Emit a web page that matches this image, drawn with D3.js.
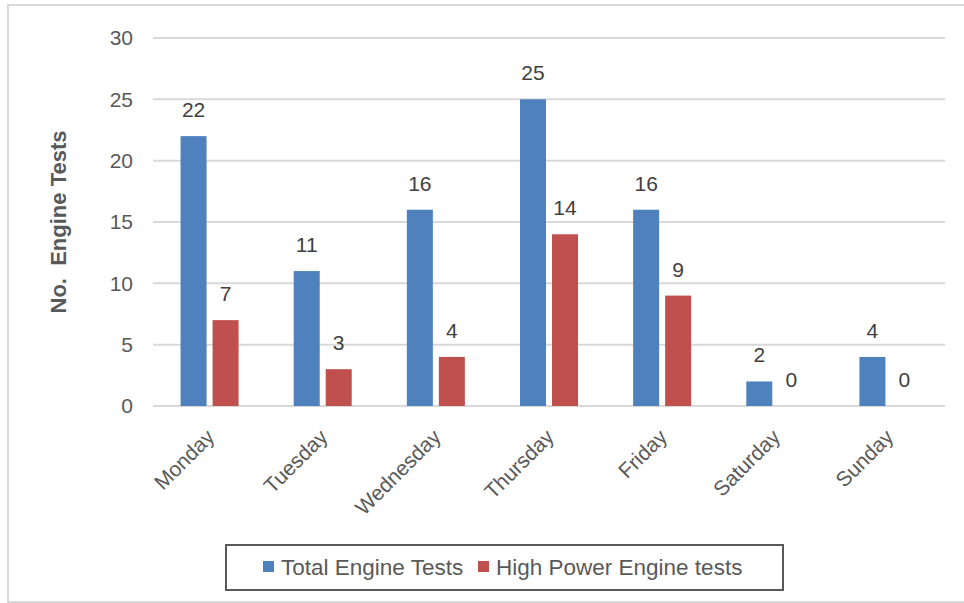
<!DOCTYPE html>
<html>
<head>
<meta charset="utf-8">
<script src="https://cdn.jsdelivr.net/npm/d3@7"></script>
<style>
  body { margin: 0; background: #fff; }
  svg { display: block; font-family: "Liberation Sans", "DejaVu Sans", sans-serif; }
</style>
</head>
<body>
<div id="chart"></div>
<script>
    'use strict';

    var days = ["Monday", "Tuesday", "Wednesday", "Thursday", "Friday", "Saturday", "Sunday"];
    var totalTests = [22, 11, 16, 25, 16, 2, 4];
    var highPowerTests = [7, 3, 4, 14, 9, 0, 0];
    var seriesNames = ["Total Engine Tests", "High Power Engine tests"];
    var seriesColors = ["#4F81BD", "#C0504D"];
    var yTicks = [0, 5, 10, 15, 20, 25, 30];

    var width = 964, height = 603;
    var plot = {left: 153, right: 945, top: 38, bottom: 406};
    var fontSize = 21;

    var svg = d3.select("#chart").append("svg")
        .attr("width", width)
        .attr("height", height);

    // outer chart border
    svg.append("rect")
        .attr("x", 8).attr("y", 5)
        .attr("width", 970).attr("height", 597)
        .attr("fill", "none")
        .attr("stroke", "#D9D9D9")
        .attr("stroke-width", 2);

    var x = d3.scaleBand()
        .domain(days)
        .range([plot.left, plot.right]);

    var y = d3.scaleLinear()
        .domain([0, 30])
        .range([plot.bottom, plot.top]);

    // grid lines
    svg.append("g")
        .selectAll("line")
        .data(yTicks)
        .enter().append("line")
        .attr("x1", plot.left).attr("x2", plot.right)
        .attr("y1", function(d) { return y(d); })
        .attr("y2", function(d) { return y(d); })
        .attr("stroke", "#D9D9D9")
        .attr("stroke-width", 2);

    // y axis labels
    var yAxis = d3.axisLeft(y).tickValues(yTicks).tickSize(0).tickPadding(20);
    var yg = svg.append("g")
        .attr("transform", "translate(" + plot.left + ",0)")
        .call(yAxis);
    yg.select(".domain").remove();
    yg.selectAll("text")
        .style("font-size", fontSize + "px")
        .style("fill", "#595959")
        .style("font-family", "Liberation Sans, sans-serif");

    // bars
    var barW = 26, gap = 6;
    var series = [totalTests, highPowerTests];
    series.forEach(function(vals, si) {
        var g = svg.append("g");
        var rows = days.map(function(d, i) { return {day: d, value: vals[i]}; });
        var offset = si === 0 ? -(barW + gap / 2) : gap / 2;
        g.selectAll("rect")
            .data(rows)
            .enter().append("rect")
            .attr("x", function(d) { return x(d.day) + x.bandwidth() / 2 + offset; })
            .attr("y", function(d) { return y(d.value); })
            .attr("width", barW)
            .attr("height", function(d) { return y(0) - y(d.value); })
            .attr("fill", seriesColors[si]);
        g.selectAll("text")
            .data(rows)
            .enter().append("text")
            .attr("x", function(d) { return x(d.day) + x.bandwidth() / 2 + offset + barW / 2; })
            .attr("y", function(d) { return y(d.value) - 19; })
            .attr("text-anchor", "middle")
            .style("font-size", fontSize + "px")
            .style("fill", "#404040")
            .text(function(d) { return d.value; });
    });

    // category labels, rotated
    svg.append("g")
        .selectAll("text")
        .data(days)
        .enter().append("text")
        .attr("transform", function(d) {
            return "translate(" + (x(d) + x.bandwidth() / 2 + 1) + "," + (plot.bottom + 27) + ")rotate(-45)";
        })
        .attr("text-anchor", "end")
        .attr("dy", "0.35em")
        .style("font-size", fontSize + "px")
        .style("fill", "#595959")
        .text(function(d) { return d; });

    // y axis title
    svg.append("text")
        .attr("transform", "translate(66," + ((plot.top + plot.bottom) / 2) + ")rotate(-90)")
        .attr("text-anchor", "middle")
        .style("font-size", "22px")
        .style("font-weight", "bold")
        .style("fill", "#595959")
        .attr("xml:space", "preserve")
        .text("No.  Engine Tests");

    // legend
    var legend = svg.append("g");
    legend.append("rect")
        .attr("x", 226).attr("y", 545)
        .attr("width", 557).attr("height", 45)
        .attr("fill", "none")
        .attr("stroke", "#595959")
        .attr("stroke-width", 2);
    var legendX = [263, 478];
    seriesNames.forEach(function(name, i) {
        legend.append("rect")
            .attr("x", legendX[i]).attr("y", 561)
            .attr("width", 11).attr("height", 11)
            .attr("fill", seriesColors[i]);
        legend.append("text")
            .attr("x", legendX[i] + 18).attr("y", 567)
            .attr("dy", "0.35em")
            .style("font-size", "22.5px")
            .style("fill", "#595959")
            .text(name);
    });
</script>
</body>
</html>
